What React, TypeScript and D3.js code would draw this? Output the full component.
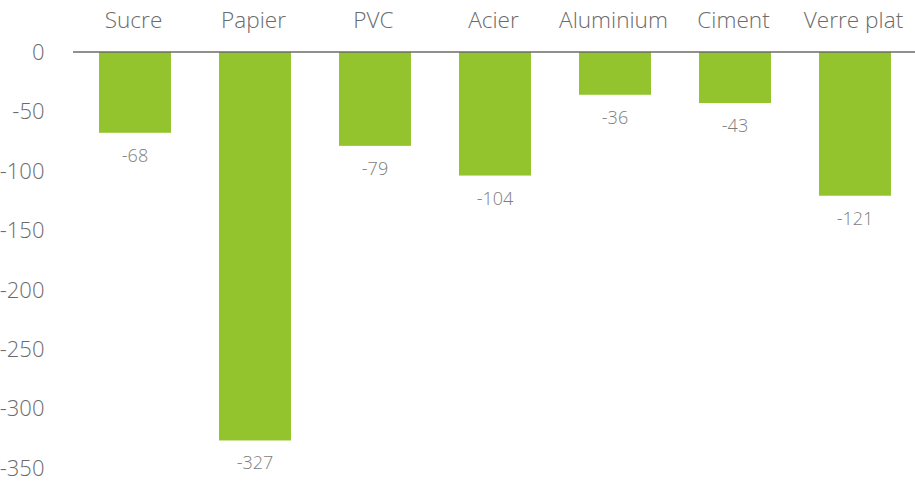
import React from "react";
import * as d3 from "d3";

const categories = ["Sucre", "Papier", "PVC", "Acier", "Aluminium", "Ciment", "Verre plat"];
const values = [-68, -327, -79, -104, -36, -43, -121];
const yTicks = [0, -50, -100, -150, -200, -250, -300, -350];

const W = 915;
const H = 481;

export default function App() {
  const x = d3.scaleBand<string>().domain(categories).range([75, 915]).paddingInner(0.4).paddingOuter(0.2);
  const y = d3.scaleLinear().domain([0, -350]).range([52, 467.8]);
  const font = "'Open Sans', sans-serif";
  return (
    <svg width={W} height={H} style={{ position: "absolute", left: 0, top: 0, background: "#fff" }}>
      {yTicks.map((t) => (
        <text key={t} x={44.5} y={y(t) + 8} textAnchor="end" fontFamily={font} fontWeight={300} fontSize={22} fill="#6b6b6b">
          {String(t)}
        </text>
      ))}
      {categories.map((c, i) => (
        <g key={c}>
          <rect x={x(c)} y={y(0)} width={x.bandwidth()} height={y(values[i]) - y(0)} fill="#93c42e" />
          <text x={(x(c) as number) + x.bandwidth() / 2 - 1.5} y={28} textAnchor="middle" fontFamily={font} fontWeight={300} fontSize={22.6} fill="#6b6b6b">
            {c}
          </text>
          <text x={(x(c) as number) + x.bandwidth() / 2} y={y(values[i]) + 29} textAnchor="middle" fontFamily={font} fontWeight={300} fontSize={18} fill="#7d7d7d">
            {String(values[i])}
          </text>
        </g>
      ))}
      <line x1={73} x2={915} y1={y(0)} y2={y(0)} stroke="#6b6b6b" strokeWidth={1.5} />
    </svg>
  );
}
